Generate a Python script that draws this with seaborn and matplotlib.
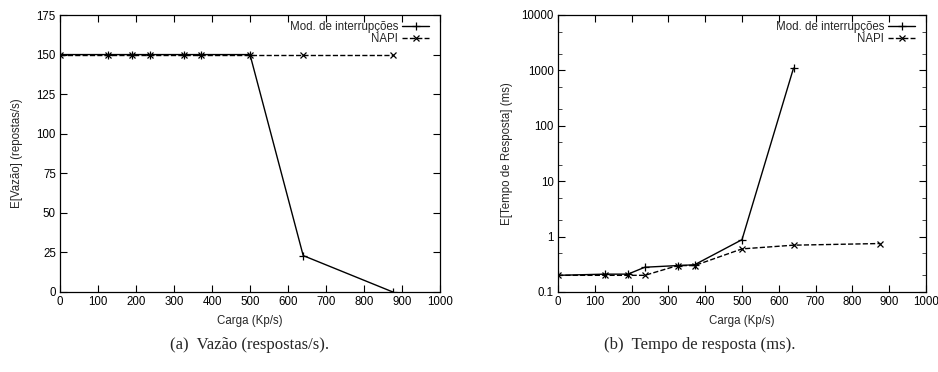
import matplotlib
matplotlib.use("Agg")
import matplotlib.pyplot as plt
import seaborn as sns
import numpy as np
import pandas as pd
from matplotlib.ticker import LogLocator, NullFormatter

carga = [0, 127, 190, 236, 325, 371, 500, 640, 876]
vazao_mod = [150, 150, 150, 150, 150, 150, 150, 23, 0]
vazao_napi = [150, 150, 150, 150, 150, 150, 150, 150, 150]
carga_mod_t = [0, 127, 190, 236, 325, 371, 500, 640]
tempo_mod = [0.2, 0.21, 0.21, 0.28, 0.30, 0.31, 0.88, 1100]
tempo_napi = [0.2, 0.2, 0.2, 0.2, 0.30, 0.30, 0.60, 0.70, 0.75]
xticks = [0, 100, 200, 300, 400, 500, 600, 700, 800, 900, 1000]
yticks_a = [0, 25, 50, 75, 100, 125, 150, 175]
yticks_b = [0.1, 1, 10, 100, 1000, 10000]
ytick_labels_b = ["0.1", "1", "10", "100", "1000", "10000"]
label_mod = "Mod. de interrupções"
label_napi = "NAPI"

sns.set_theme(style="ticks")
plt.rcParams['font.family'] = ['Liberation Sans', 'DejaVu Sans']
FS = 8.3

fig = plt.figure(figsize=(9.38, 3.72), dpi=100)
ax1 = fig.add_axes([60/938, 1-292/372, 380/938, 277/372])
ax2 = fig.add_axes([558/938, 1-292/372, 368/938, 277/372])

def style_axes(ax):
    for s in ax.spines.values():
        s.set_color("black")
        s.set_linewidth(0.9)
    ax.tick_params(direction="in", top=True, right=True, labelsize=FS,
                   length=5, width=0.8, colors="black", pad=3)
    ax.tick_params(which="minor", direction="in", top=True, right=True, length=3, width=0.6)
    ax.set_xlim(0, 1000)
    ax.set_xticks(xticks)
    ax.set_xlabel("Carga (Kp/s)", fontsize=FS, labelpad=5)
    ax.grid(False)

def legend(ax, wpx):
    ax.legend(loc="upper right", bbox_to_anchor=(1 - 11/wpx, 1 - 6/277),
              frameon=False, markerfirst=False, fontsize=FS,
              handlelength=2.3, handletextpad=0.4, borderaxespad=0.0,
              borderpad=0.0, labelspacing=0.0)

mk_mod = dict(color="black", lw=1.0, marker="+", markersize=6, markeredgewidth=0.9,
              markeredgecolor="black", markerfacecolor="black")
mk_napi = dict(color="black", lw=1.0, marker="x", markersize=5, markeredgewidth=0.9,
               markeredgecolor="black", markerfacecolor="black", linestyle="--", dashes=(3, 2))

sns.lineplot(x=carga, y=vazao_mod, ax=ax1, label=label_mod, **mk_mod)
sns.lineplot(x=carga, y=vazao_napi, ax=ax1, label=label_napi, **mk_napi)
style_axes(ax1)
ax1.set_ylim(0, 175)
ax1.set_yticks(yticks_a)
ax1.set_ylabel("E[Vazão] (repostas/s)", fontsize=FS, labelpad=10)
legend(ax1, 380)

sns.lineplot(x=carga_mod_t, y=tempo_mod, ax=ax2, label=label_mod, **mk_mod)
sns.lineplot(x=carga, y=tempo_napi, ax=ax2, label=label_napi, **mk_napi)
ax2.set_yscale("log")
style_axes(ax2)
ax2.set_ylim(0.1, 10000)
ax2.set_yticks(yticks_b)
ax2.set_yticklabels(ytick_labels_b)
ax2.yaxis.set_minor_locator(LogLocator(base=10, subs=(2, 5)))
ax2.yaxis.set_minor_formatter(NullFormatter())
ax2.set_ylabel("E[Tempo de Resposta] (ms)", fontsize=FS, labelpad=6)
legend(ax2, 368)

fig.text(250/938, 1-345/372, "(a)  Vazão (respostas/s).", ha="center", va="center",
         fontsize=12, family=["Liberation Serif", "DejaVu Serif"])
fig.text(700/938, 1-345/372, "(b)  Tempo de resposta (ms).", ha="center", va="center",
         fontsize=12, family=["Liberation Serif", "DejaVu Serif"])

fig.savefig("out.png", dpi=100)
